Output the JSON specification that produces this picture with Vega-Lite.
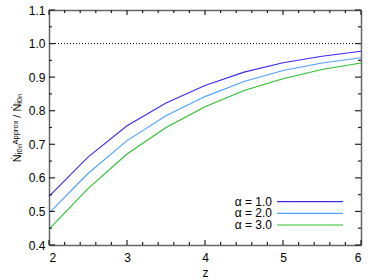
{
  "$schema": "https://vega.github.io/schema/vega-lite/v6.json",
  "width": 312,
  "height": 235,
  "autosize": {"type": "none"},
  "padding": {"left": 49, "top": 10, "right": 13, "bottom": 35},
  "config": {
    "view": {"stroke": null},
    "font": "Liberation Sans",
    "axis": {
      "domainColor": "#666666",
      "domainWidth": 1.5,
      "grid": false,
      "ticks": false,
      "tickSize": 0,
      "labelFont": "Liberation Sans",
      "labelFontSize": 12,
      "labelColor": "#000000",
      "titleFont": "Liberation Sans",
      "titleFontWeight": "normal",
      "titleColor": "#000000"
    }
  },
  "datasets": {
    "curves": [
      {"z": 2.0, "r": 0.545, "a": "α = 1.0"},
      {"z": 2.5, "r": 0.662, "a": "α = 1.0"},
      {"z": 3.0, "r": 0.755, "a": "α = 1.0"},
      {"z": 3.5, "r": 0.823, "a": "α = 1.0"},
      {"z": 4.0, "r": 0.875, "a": "α = 1.0"},
      {"z": 4.5, "r": 0.915, "a": "α = 1.0"},
      {"z": 5.0, "r": 0.943, "a": "α = 1.0"},
      {"z": 5.5, "r": 0.962, "a": "α = 1.0"},
      {"z": 6.0, "r": 0.977, "a": "α = 1.0"},
      {"z": 2.0, "r": 0.495, "a": "α = 2.0"},
      {"z": 2.5, "r": 0.613, "a": "α = 2.0"},
      {"z": 3.0, "r": 0.711, "a": "α = 2.0"},
      {"z": 3.5, "r": 0.785, "a": "α = 2.0"},
      {"z": 4.0, "r": 0.842, "a": "α = 2.0"},
      {"z": 4.5, "r": 0.887, "a": "α = 2.0"},
      {"z": 5.0, "r": 0.920, "a": "α = 2.0"},
      {"z": 5.5, "r": 0.942, "a": "α = 2.0"},
      {"z": 6.0, "r": 0.958, "a": "α = 2.0"},
      {"z": 2.0, "r": 0.447, "a": "α = 3.0"},
      {"z": 2.5, "r": 0.568, "a": "α = 3.0"},
      {"z": 3.0, "r": 0.671, "a": "α = 3.0"},
      {"z": 3.5, "r": 0.750, "a": "α = 3.0"},
      {"z": 4.0, "r": 0.812, "a": "α = 3.0"},
      {"z": 4.5, "r": 0.860, "a": "α = 3.0"},
      {"z": 5.0, "r": 0.895, "a": "α = 3.0"},
      {"z": 5.5, "r": 0.923, "a": "α = 3.0"},
      {"z": 6.0, "r": 0.942, "a": "α = 3.0"}
    ],
    "series": [
      {"a": "α = 1.0"},
      {"a": "α = 2.0"},
      {"a": "α = 3.0"}
    ],
    "xticks": [
      {"v": 2.0, "major": true}, {"v": 2.2, "major": false}, {"v": 2.4, "major": false}, {"v": 2.6, "major": false}, {"v": 2.8, "major": false},
      {"v": 3.0, "major": true}, {"v": 3.2, "major": false}, {"v": 3.4, "major": false}, {"v": 3.6, "major": false}, {"v": 3.8, "major": false},
      {"v": 4.0, "major": true}, {"v": 4.2, "major": false}, {"v": 4.4, "major": false}, {"v": 4.6, "major": false}, {"v": 4.8, "major": false},
      {"v": 5.0, "major": true}, {"v": 5.2, "major": false}, {"v": 5.4, "major": false}, {"v": 5.6, "major": false}, {"v": 5.8, "major": false},
      {"v": 6.0, "major": true}
    ],
    "yticks": [
      {"v": 0.4, "major": true}, {"v": 0.45, "major": false},
      {"v": 0.5, "major": true}, {"v": 0.55, "major": false},
      {"v": 0.6, "major": true}, {"v": 0.65, "major": false},
      {"v": 0.7, "major": true}, {"v": 0.75, "major": false},
      {"v": 0.8, "major": true}, {"v": 0.85, "major": false},
      {"v": 0.9, "major": true}, {"v": 0.95, "major": false},
      {"v": 1.0, "major": true}, {"v": 1.05, "major": false},
      {"v": 1.1, "major": true}
    ]
  },
  "layer": [
    {
      "data": {"name": "curves"},
      "mark": {"type": "line", "strokeWidth": 1.1},
      "encoding": {
        "x": {
          "field": "z",
          "type": "quantitative",
          "scale": {"domain": [2, 6], "nice": false, "zero": false},
          "axis": {
            "orient": "bottom",
            "title": "z",
            "titleFontSize": 12,
            "titlePadding": 4,
            "values": [2, 3, 4, 5, 6],
            "format": "d",
            "labelPadding": 7
          }
        },
        "y": {
          "field": "r",
          "type": "quantitative",
          "scale": {"domain": [0.4, 1.1], "nice": false, "zero": false},
          "axis": {
            "orient": "left",
            "title": "Ṅᵢₒₙᴬᵖᵖʳᵒˣ / Ṅᵢₒₙ",
            "titleFontSize": 11,
            "titlePadding": 6,
            "values": [0.4, 0.5, 0.6, 0.7, 0.8, 0.9, 1.0, 1.1],
            "format": ".1f",
            "labelPadding": 4
          }
        },
        "color": {
          "field": "a",
          "type": "nominal",
          "scale": {"domain": ["α = 1.0", "α = 2.0", "α = 3.0"], "range": ["#3a2af0", "#4f9fff", "#2cbf2c"]},
          "legend": null
        }
      }
    },
    {
      "data": {"values": [{"ref": 1.0}]},
      "mark": {"type": "rule", "color": "#000000", "strokeWidth": 1, "strokeDash": [1, 2]},
      "encoding": {
        "x": {
          "datum": 2,
          "type": "quantitative",
          "axis": {"orient": "top", "title": null, "labels": false, "values": []}
        },
        "x2": {"datum": 6},
        "y": {
          "field": "ref",
          "type": "quantitative",
          "scale": {"domain": [0.4, 1.1], "nice": false, "zero": false},
          "axis": {"orient": "right", "title": null, "labels": false, "values": []}
        }
      }
    },
    {
      "data": {"name": "xticks"},
      "transform": [{"filter": "datum.major"}],
      "mark": {"type": "tick", "color": "#222222", "thickness": 1.2, "size": 5, "orient": "vertical", "yOffset": -2.5, "opacity": 1},
      "encoding": {
        "x": {"field": "v", "type": "quantitative", "axis": null},
        "y": {"datum": 0.4, "type": "quantitative", "scale": {"domain": [0.4, 1.1], "nice": false, "zero": false}, "axis": null}
      }
    },
    {
      "data": {"name": "xticks"},
      "transform": [{"filter": "!datum.major"}],
      "mark": {"type": "tick", "color": "#222222", "thickness": 1.2, "size": 3, "orient": "vertical", "yOffset": -1.5, "opacity": 1},
      "encoding": {
        "x": {"field": "v", "type": "quantitative", "axis": null},
        "y": {"datum": 0.4, "type": "quantitative", "scale": {"domain": [0.4, 1.1], "nice": false, "zero": false}, "axis": null}
      }
    },
    {
      "data": {"name": "xticks"},
      "transform": [{"filter": "datum.major"}],
      "mark": {"type": "tick", "color": "#222222", "thickness": 1.2, "size": 5, "orient": "vertical", "yOffset": 2.5, "opacity": 1},
      "encoding": {
        "x": {"field": "v", "type": "quantitative", "axis": null},
        "y": {"datum": 1.1, "type": "quantitative", "scale": {"domain": [0.4, 1.1], "nice": false, "zero": false}, "axis": null}
      }
    },
    {
      "data": {"name": "xticks"},
      "transform": [{"filter": "!datum.major"}],
      "mark": {"type": "tick", "color": "#222222", "thickness": 1.2, "size": 3, "orient": "vertical", "yOffset": 1.5, "opacity": 1},
      "encoding": {
        "x": {"field": "v", "type": "quantitative", "axis": null},
        "y": {"datum": 1.1, "type": "quantitative", "scale": {"domain": [0.4, 1.1], "nice": false, "zero": false}, "axis": null}
      }
    },
    {
      "data": {"name": "yticks"},
      "transform": [{"filter": "datum.major"}],
      "mark": {"type": "tick", "color": "#222222", "thickness": 1.2, "size": 6, "orient": "horizontal", "xOffset": 3, "opacity": 1},
      "encoding": {
        "y": {"field": "v", "type": "quantitative", "scale": {"domain": [0.4, 1.1], "nice": false, "zero": false}, "axis": null},
        "x": {"datum": 2, "type": "quantitative", "axis": null}
      }
    },
    {
      "data": {"name": "yticks"},
      "transform": [{"filter": "!datum.major"}],
      "mark": {"type": "tick", "color": "#222222", "thickness": 1.2, "size": 3, "orient": "horizontal", "xOffset": 1.5, "opacity": 1},
      "encoding": {
        "y": {"field": "v", "type": "quantitative", "scale": {"domain": [0.4, 1.1], "nice": false, "zero": false}, "axis": null},
        "x": {"datum": 2, "type": "quantitative", "axis": null}
      }
    },
    {
      "data": {"name": "yticks"},
      "transform": [{"filter": "datum.major"}],
      "mark": {"type": "tick", "color": "#222222", "thickness": 1.2, "size": 6, "orient": "horizontal", "xOffset": -3, "opacity": 1},
      "encoding": {
        "y": {"field": "v", "type": "quantitative", "scale": {"domain": [0.4, 1.1], "nice": false, "zero": false}, "axis": null},
        "x": {"datum": 6, "type": "quantitative", "axis": null}
      }
    },
    {
      "data": {"name": "yticks"},
      "transform": [{"filter": "!datum.major"}],
      "mark": {"type": "tick", "color": "#222222", "thickness": 1.2, "size": 3, "orient": "horizontal", "xOffset": -1.5, "opacity": 1},
      "encoding": {
        "y": {"field": "v", "type": "quantitative", "scale": {"domain": [0.4, 1.1], "nice": false, "zero": false}, "axis": null},
        "x": {"datum": 6, "type": "quantitative", "axis": null}
      }
    },
    {
      "data": {"name": "series"},
      "mark": {"type": "rule", "strokeWidth": 1.2},
      "encoding": {
        "x": {"datum": 4.923, "type": "quantitative", "axis": null},
        "x2": {"datum": 5.769},
        "y": {
          "field": "a",
          "type": "nominal",
          "scale": {"type": "point", "domain": ["α = 1.0", "α = 2.0", "α = 3.0"], "range": [191.7, 215], "padding": 0},
          "axis": null
        },
        "color": {"field": "a", "type": "nominal", "legend": null}
      }
    },
    {
      "data": {"name": "series"},
      "mark": {"type": "text", "align": "right", "baseline": "middle", "fontSize": 12, "font": "Liberation Sans", "color": "#000000"},
      "encoding": {
        "x": {"datum": 4.859, "type": "quantitative", "axis": null},
        "y": {
          "field": "a",
          "type": "nominal",
          "scale": {"type": "point", "domain": ["α = 1.0", "α = 2.0", "α = 3.0"], "range": [191.7, 215], "padding": 0},
          "axis": null
        },
        "text": {"field": "a"}
      }
    }
  ],
  "resolve": {"axis": {"x": "independent", "y": "independent"}, "scale": {"y": "independent"}}
}
